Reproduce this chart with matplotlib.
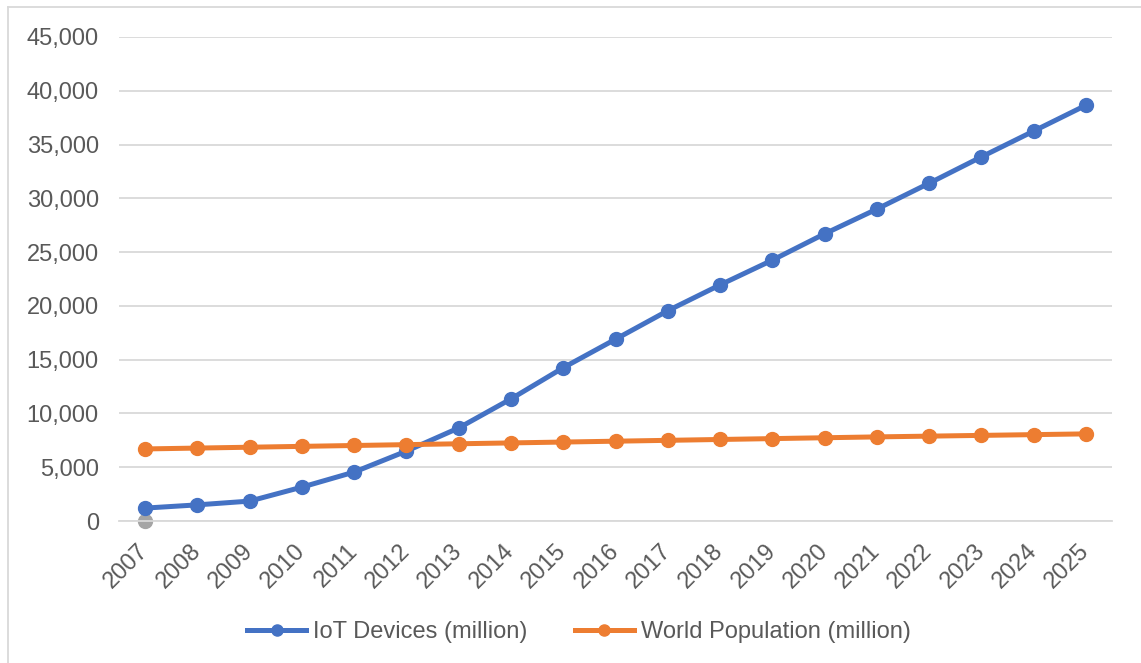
import matplotlib.pyplot as plt
from matplotlib.lines import Line2D
from matplotlib.ticker import FuncFormatter

plt.rcParams['font.family'] = ['Liberation Sans', 'DejaVu Sans']

# Datos
years = [str(y) for y in range(2007, 2026)]
iot_devices = [1200, 1500, 1850, 3150, 4550, 6500, 8650, 11350, 14250, 16900,
               19550, 21950, 24250, 26700, 29000, 31400, 33850, 36250, 38650]
world_population = [6700, 6780, 6860, 6940, 7020, 7100, 7180, 7260, 7340, 7420,
                    7500, 7580, 7660, 7740, 7820, 7890, 7960, 8030, 8100]
extra_year = ['2007']
extra_value = [0]

text_color = '#595959'
grid_color = '#D9D9D9'

fig = plt.figure(figsize=(11.41, 6.63), dpi=100)
ax = fig.add_axes([119 / 1141, 1 - 521 / 663, (1112 - 119) / 1141, (521 - 37) / 663])

x = list(range(len(years)))
ax.plot(x, iot_devices, color='#4472C4', lw=3.6, marker='o', ms=10,
        label='IoT Devices (million)', zorder=3)
ax.plot(x, world_population, color='#ED7D31', lw=3.6, marker='o', ms=10,
        label='World Population (million)', zorder=3)
ax.plot([years.index(y) for y in extra_year], extra_value, color='#A5A5A5',
        lw=0, marker='o', ms=10, zorder=2, clip_on=False)

ax.set_xlim(-0.5, len(years) - 0.5)
ax.set_ylim(0, 45000)
ax.set_yticks(range(0, 45001, 5000))
ax.yaxis.set_major_formatter(FuncFormatter(lambda v, p: f'{int(v):,}'))
ax.set_xticks(x)
ax.set_xticklabels(years, rotation=45, ha='right', va='center', rotation_mode='anchor')

ax.grid(axis='y', color=grid_color, lw=1.3)
ax.set_axisbelow(True)
for s in ['top', 'right', 'left']:
    ax.spines[s].set_visible(False)
ax.spines['bottom'].set_color(grid_color)
ax.spines['bottom'].set_linewidth(1.3)
ax.tick_params(axis='y', length=0, pad=14.5, labelsize=17, labelcolor=text_color)
ax.tick_params(axis='x', length=0, pad=19, labelsize=17, labelcolor=text_color)

fig.legend(loc='center', bbox_to_anchor=(579 / 1141, 1 - 632 / 663), ncol=2, frameon=False,
           fontsize=17, labelcolor=text_color, handlelength=2.5, handletextpad=0.3,
           columnspacing=2.0, markerscale=0.8)

# Borde del área del gráfico
fig.add_artist(Line2D([8 / 1141, 8 / 1141], [0, 1 - 7 / 663], color=grid_color,
                      lw=1.3, transform=fig.transFigure))
fig.add_artist(Line2D([8 / 1141, 1], [1 - 7 / 663, 1 - 7 / 663], color=grid_color,
                      lw=1.3, transform=fig.transFigure))

fig.savefig('out.png', dpi=100)
